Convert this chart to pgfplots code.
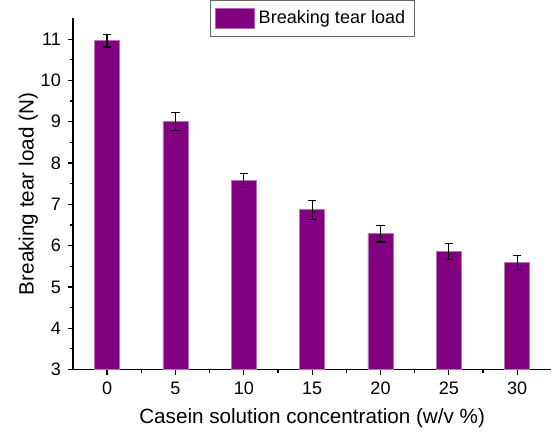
\documentclass[border=0pt]{standalone}
\usepackage{pgfplots}
\pgfplotsset{compat=1.18}
\usepackage{fontspec}
\setmainfont{Liberation Sans}
\definecolor{barpurple}{HTML}{800080}
\begin{document}
\begin{tikzpicture}
\begin{axis}[
  scale only axis,
  width=238.5pt, height=175pt,
  axis x line*=bottom, axis y line*=left,
  axis line style={-, line width=0.6pt},
  xmin=-0.5, xmax=6.5,
  ymin=3, ymax=11.5,
  xtick={0,1,2,3,4,5,6},
  xticklabels={0,5,10,15,20,25,30},
  ytick={3,4,5,6,7,8,9,10,11},
  minor x tick num=1, minor y tick num=1,
  tick align=outside,
  major tick length=2.5pt, minor tick length=1.5pt,
  tick style={black, line width=0.6pt},
  ticklabel style={font=\fontsize{9}{10}\selectfont},
  /pgf/number format/assume math mode=true,
  xlabel={Casein solution concentration (w/v \%)},
  ylabel={Breaking tear load (N)},
  label style={font=\fontsize{10.3}{12}\selectfont},
  xlabel style={yshift=0pt},
  ylabel style={yshift=-5.5pt},
  legend style={at={(0.5,1)}, anchor=center, draw=black!60, line width=0.4pt,
    font=\fontsize{9}{11}\selectfont, inner xsep=2.5pt, inner ysep=3pt},
  legend image code/.code={\draw[#1, draw=barpurple!60!white] (0cm,-5pt) rectangle (19.5pt,5pt);},
]
\addplot+[ybar, bar width=12.5pt, fill=barpurple, draw=barpurple!55!white, line width=0.3pt,
  mark=none,
  error bars/.cd, y dir=both, y explicit,
  error bar style={black, line width=0.6pt},
  error mark options={rotate=90, mark size=2.1pt, black, line width=0.6pt}]
  table[x=x, y=y, y error=e] {
  x  y     e
  0  10.96 0.15
  1  9.01  0.22
  2  7.58  0.17
  3  6.87  0.23
  4  6.29  0.20
  5  5.86  0.19
  6  5.60  0.17
  };
\addlegendentry{Breaking tear load}
\end{axis}
\path (current bounding box.west) ++(-6pt,0);
\end{tikzpicture}
\end{document}
